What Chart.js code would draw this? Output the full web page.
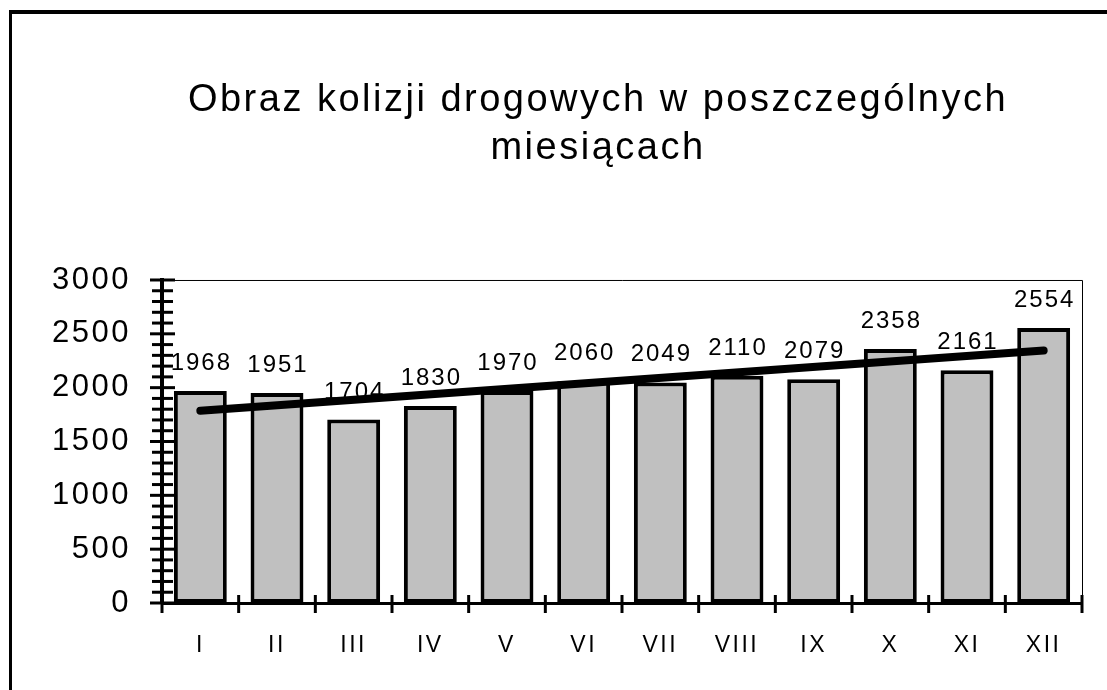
<!DOCTYPE html>
<html>
<head>
<meta charset="utf-8">
<script src="https://cdn.jsdelivr.net/npm/chart.js@4"></script>
<style>
    html, body { margin: 0; padding: 0; background: #fff; overflow: hidden; }
    #frame { position: absolute; left: 9px; top: 10px; width: 1200px; height: 800px;
             border-style: solid; border-color: #000; border-width: 4px 0 0 3px; }
    #chart { position: absolute; left: 0; top: 0; }
</style>
</head>
<body>
<div id="frame"></div>
<canvas id="chart" width="1107" height="690"></canvas>
<script>
// Chart data
const months = ['I', 'II', 'III', 'IV', 'V', 'VI', 'VII', 'VIII', 'IX', 'X', 'XI', 'XII'];
const collisions = [1968, 1951, 1704, 1830, 1970, 2060, 2049, 2110, 2079, 2358, 2161, 2554];
// trend line end points (middle points empty)
const trend = [1785, null, null, null, null, null, null, null, null, null, null, 2345];
const titleLines = ['Obraz kolizji drogowych w poszczególnych', 'miesiącach'];

const FONT = "'Liberation Sans', Arial, sans-serif";

// Extra drawing: value labels, crossing tick marks, thin plot frame, letter spacing
const decorPlugin = {
    id: 'decor',
    afterLayout(chart) {
        // title sits a little left of the plot centre in the original
        const t = chart.titleBlock;
        if (t) {
            t.left -= 24;
            t.right -= 24;
        }
    },
    beforeDraw(chart) {
        // y axis (z -1) and title (z 0) are drawn right after this hook
        chart.ctx.letterSpacing = '2.5px';
    },
    beforeDatasetsDraw(chart) {
        const ctx = chart.ctx;
        const area = chart.chartArea;
        ctx.save();
        ctx.strokeStyle = '#000';
        ctx.lineWidth = 1;
        ctx.beginPath();
        ctx.moveTo(area.left, area.top + 0.5);
        ctx.lineTo(area.right + 0.5, area.top + 0.5);
        ctx.lineTo(area.right + 0.5, area.bottom);
        ctx.stroke();
        ctx.restore();
    },
    afterDatasetsDraw(chart) {
        const ctx = chart.ctx;
        const meta = chart.getDatasetMeta(1);
        ctx.save();
        ctx.letterSpacing = '2px';
        ctx.font = '24px ' + FONT;
        ctx.fillStyle = '#000';
        ctx.textAlign = 'center';
        ctx.textBaseline = 'alphabetic';
        meta.data.forEach((bar, i) => {
            ctx.fillText(String(collisions[i]), bar.x + 1, bar.y - 21);
        });
        ctx.restore();
        // x axis (z 1) is drawn after this hook
        ctx.letterSpacing = '2px';
    },
    afterDraw(chart) {
        const ctx = chart.ctx;
        const xs = chart.scales.x;
        const ys = chart.scales.y;
        const area = chart.chartArea;
        ctx.save();
        ctx.strokeStyle = '#000';
        ctx.lineWidth = 3;
        ctx.lineCap = 'butt';
        ys.ticks.forEach((t, i) => {
            const py = ys.getPixelForTick(i);
            const major = t.value % 500 === 0;
            ctx.beginPath();
            ctx.moveTo(area.left - (major ? 12 : 10), py);
            ctx.lineTo(area.left + (major ? 13 : 11), py);
            ctx.stroke();
        });
        const step = xs.width / months.length;
        for (let i = 0; i <= months.length; i++) {
            const px = xs.left + i * step;
            ctx.beginPath();
            ctx.moveTo(px, area.bottom - 8);
            ctx.lineTo(px, area.bottom + 10);
            ctx.stroke();
        }
        ctx.restore();
    }
};

new Chart(document.getElementById('chart'), {
    data: {
        labels: months,
        datasets: [{
            type: 'line',
            data: trend,
            borderColor: '#000',
            borderWidth: 8,
            borderCapStyle: 'round',
            pointRadius: 0,
            spanGaps: true,
            tension: 0,
            order: 1
        }, {
            type: 'bar',
            data: collisions,
            backgroundColor: '#c0c0c0',
            borderColor: '#000',
            borderWidth: 4,
            borderSkipped: false,
            categoryPercentage: 1,
            barPercentage: 0.69,
            order: 2
        }]
    },
    options: {
        responsive: false,
        animation: false,
        layout: { padding: { left: 0, right: 25, top: 0, bottom: 0 } },
        plugins: {
            legend: { display: false },
            tooltip: { enabled: false },
            title: {
                display: true,
                fullSize: false,
                text: titleLines,
                color: '#000',
                font: { family: FONT, size: 38, weight: 'normal', lineHeight: 1.263 },
                padding: { top: 77, bottom: 107 }
            }
        },
        scales: {
            x: {
                z: 1,
                offset: true,
                grid: { display: false, offset: true },
                border: { display: true, color: '#000', width: 3 },
                ticks: {
                    color: '#000',
                    font: { family: FONT, size: 23 },
                    padding: 21,
                    maxRotation: 0,
                    autoSkip: false
                },
                afterFit(scale) { scale.height = 87; }
            },
            y: {
                z: -1,
                min: 0,
                max: 3000,
                grid: { display: false },
                border: { display: true, color: '#000', width: 4 },
                ticks: {
                    stepSize: 100,
                    autoSkip: false,
                    color: '#000',
                    font: { family: FONT, size: 31 },
                    padding: 23,
                    callback: (v) => (v % 500 === 0 ? String(v) : '')
                },
                afterFit(scale) { scale.width = 162; }
            }
        }
    },
    plugins: [decorPlugin]
});
</script>
</body>
</html>
